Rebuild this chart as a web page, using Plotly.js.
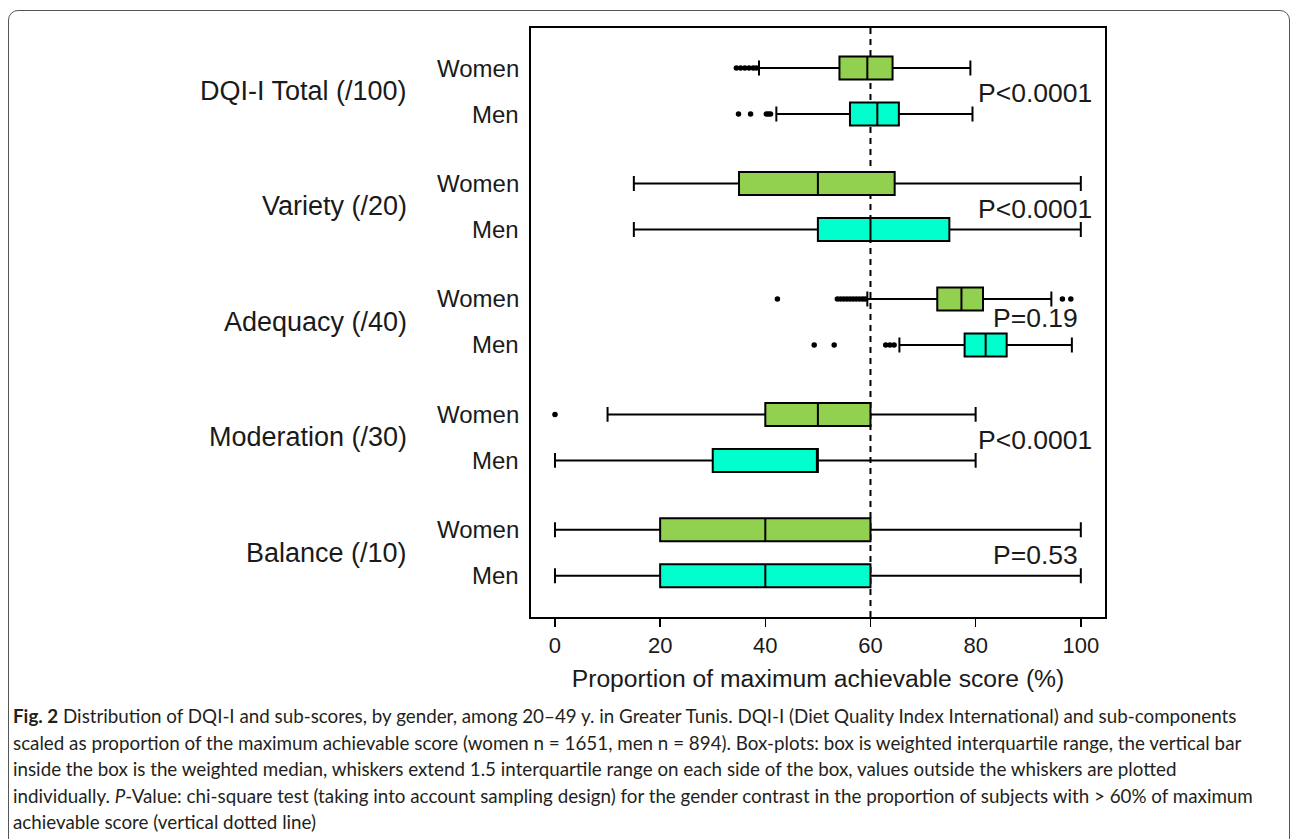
<!DOCTYPE html>
<html>
<head>
<meta charset="utf-8">
<script src="https://cdn.plot.ly/plotly-3.0.1.min.js"></script>
<style>
  body { margin: 0; background: #fff; }
  #wrap { position: relative; width: 1292px; height: 839px; overflow: hidden; background: #fff; }
  #chart { position: absolute; left: 0; top: 0; width: 1292px; height: 839px; }
  #frame { position: absolute; left: 8px; top: 10px; width: 1280px; height: 900px; border: 1.5px solid #555; border-radius: 10px; pointer-events: none; }
  #cap { position: absolute; left: 13px; top: 703px; font-family: Lato, "Open Sans", sans-serif; font-size: 18.8px; line-height: 26.5px; color: #231f20; white-space: nowrap; }
</style>
</head>
<body>
<div id="wrap">
  <div id="chart"></div>
  <div id="frame"></div>
  <div id="cap">
    <b>Fig. 2</b> Distribution of DQI-I and sub-scores, by gender, among 20–49 y. in Greater Tunis. DQI-I (Diet Quality Index International) and sub-components<br>
    scaled as proportion of the maximum achievable score (women n = 1651, men n = 894). Box-plots: box is weighted interquartile range, the vertical bar<br>
    inside the box is the weighted median, whiskers extend 1.5 interquartile range on each side of the box, values outside the whiskers are plotted<br>
    individually. <i>P</i>-Value: chi-square test (taking into account sampling design) for the gender contrast in the proportion of subjects with &gt; 60% of maximum<br>
    achievable score (vertical dotted line)
  </div>
</div>
<script>
// ---- data ----
const groups = ["DQI-I Total (/100)", "Variety (/20)", "Adequacy (/40)", "Moderation (/30)", "Balance (/10)"];
const sexes = ["Women", "Men"];
const pValues = ["P<0.0001", "P<0.0001", "P=0.19", "P<0.0001", "P=0.53"];

const womenLowerFence = [38.8, 15, 59.4, 10, 0];
const womenQ1         = [54.1, 35, 72.7, 40, 20];
const womenMedian     = [59.4, 50, 77.3, 50, 40];
const womenQ3         = [64.2, 64.6, 81.4, 60, 60];
const womenUpperFence = [79.0, 100, 94.4, 80, 100];

const menLowerFence = [42.1, 15, 65.5, 0, 0];
const menQ1         = [56.1, 50, 77.9, 30, 20];
const menMedian     = [61.3, 60, 81.9, 50, 40];
const menQ3         = [65.4, 75, 85.9, 50, 60];
const menUpperFence = [79.4, 100, 98.3, 80, 100];

const womenOutliers = [
  [34.5, 35.3, 36.1, 36.9, 37.7, 38.3],
  [],
  [42.3, 53.7, 54.3, 54.9, 55.5, 56.1, 56.7, 57.3, 57.9, 58.5, 59.0, 96.5, 98.1],
  [0],
  []
];
const menOutliers = [
  [34.9, 37.2, 40.2, 40.6, 41.0],
  [],
  [49.3, 53.1, 62.9, 63.7, 64.5],
  [],
  []
];
const xTicks = [0, 20, 40, 60, 80, 100];
const threshold = 60;

// ---- layout helpers ----
const GROUP_STEP = 2.51;
const posW = groups.map((g, i) => i * GROUP_STEP);
const posM = groups.map((g, i) => i * GROUP_STEP + 1);
const TXT = "#1a1a1a";
const FONT = "Liberation Sans, Arial, sans-serif";

const boxCommon = {
  type: "box", orientation: "h", boxpoints: false, width: 0.5, whiskerwidth: 0.65,
  line: { color: "#000", width: 2 }, hoverinfo: "skip", showlegend: false
};

const traces = [
  Object.assign({}, boxCommon, {
    name: "Women", y: posW, q1: womenQ1, median: womenMedian, q3: womenQ3,
    lowerfence: womenLowerFence, upperfence: womenUpperFence, fillcolor: "#92D050"
  }),
  Object.assign({}, boxCommon, {
    name: "Men", y: posM, q1: menQ1, median: menMedian, q3: menQ3,
    lowerfence: menLowerFence, upperfence: menUpperFence, fillcolor: "#00FFCC"
  })
];

const ox = [], oy = [];
womenOutliers.forEach((arr, i) => arr.forEach(v => { ox.push(v); oy.push(posW[i]); }));
menOutliers.forEach((arr, i) => arr.forEach(v => { ox.push(v); oy.push(posM[i]); }));
traces.push({
  type: "scatter", mode: "markers", x: ox, y: oy,
  marker: { color: "#000", size: 5.5 }, hoverinfo: "skip", showlegend: false
});

const annotations = [];
groups.forEach((g, i) => {
  annotations.push({ xref: "paper", yref: "y", x: 0, y: posW[i], text: sexes[0], showarrow: false,
    xanchor: "right", yanchor: "middle", xshift: -10, font: { family: FONT, size: 24, color: TXT } });
  annotations.push({ xref: "paper", yref: "y", x: 0, y: posM[i], text: sexes[1], showarrow: false,
    xanchor: "right", yanchor: "middle", xshift: -10, font: { family: FONT, size: 24, color: TXT } });
  annotations.push({ xref: "paper", yref: "y", x: 0, y: (posW[i] + posM[i]) / 2, text: g, showarrow: false,
    xanchor: "right", yanchor: "middle", xshift: -122, font: { family: FONT, size: 27, color: TXT } });
  annotations.push({ xref: "x", yref: "y", x: 91.3, y: posW[i] + (i === 2 ? 0.42 : 0.55), text: pValues[i], showarrow: false,
    xanchor: "center", yanchor: "middle", font: { family: FONT, size: 26.5, color: TXT } });
});

const layout = {
  width: 1292, height: 839,
  margin: { l: 531, r: 187, t: 28, b: 222 },
  paper_bgcolor: "rgba(0,0,0,0)", plot_bgcolor: "#fff",
  boxmode: "overlay", hovermode: false,
  font: { family: FONT, color: TXT },
  xaxis: {
    range: [-4.56, 104.6], tickvals: xTicks, ticktext: xTicks.map(String),
    ticks: "outside", ticklen: 8, tickwidth: 1.5, tickcolor: "#000",
    showline: true, linewidth: 2, linecolor: "#000", mirror: true,
    showgrid: false, zeroline: false,
    tickfont: { family: FONT, size: 22, color: TXT },
    title: { text: "Proportion of maximum achievable score (%)", font: { family: FONT, size: 24.7, color: TXT }, standoff: 12 }
  },
  yaxis: {
    range: [11.935, -0.87], showticklabels: false, ticks: "",
    showline: true, linewidth: 2, linecolor: "#000", mirror: true,
    showgrid: false, zeroline: false
  },
  shapes: [{
    type: "line", xref: "x", yref: "paper", x0: threshold, x1: threshold, y0: 0, y1: 1,
    line: { color: "#000", width: 2, dash: "6px,5px" }, layer: "below"
  }],
  annotations: annotations
};

Plotly.newPlot("chart", traces, layout, { displayModeBar: false, staticPlot: true });
</script>
</body>
</html>
